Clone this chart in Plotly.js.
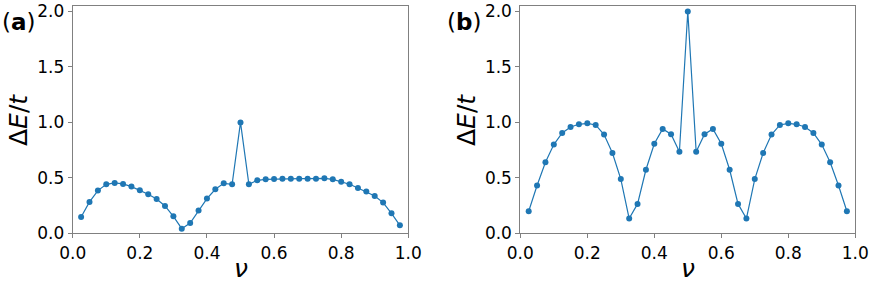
<!DOCTYPE html>
<html><head><meta charset="utf-8">
<script src="https://cdn.plot.ly/plotly-3.0.1.min.js"></script>
<style>body{margin:0;padding:0;background:#fff}#plot{width:872px;height:284px}</style>
</head><body><div id="plot"></div>
<script>
const nu = [0.025,0.05,0.075,0.1,0.125,0.15,0.175,0.2,0.225,0.25,0.275,0.3,0.325,0.35,0.375,0.4,0.425,0.45,0.475,0.5,
0.525,0.55,0.575,0.6,0.625,0.65,0.675,0.7,0.725,0.75,0.775,0.8,0.825,0.85,0.875,0.9,0.925,0.95,0.975];
const gapA = [0.147,0.283,0.385,0.442,0.454,0.445,0.421,0.388,0.352,0.31,0.247,0.153,0.042,0.093,0.205,0.313,0.397,0.451,0.442,1.0,
0.442,0.478,0.487,0.49,0.493,0.493,0.493,0.493,0.493,0.496,0.487,0.466,0.442,0.409,0.376,0.337,0.277,0.18,0.072];
const gapB = [0.199,0.431,0.64,0.8,0.905,0.959,0.983,0.992,0.977,0.89,0.724,0.489,0.133,0.265,0.573,0.808,0.941,0.893,0.736,2.0,
0.736,0.893,0.941,0.808,0.573,0.265,0.133,0.489,0.724,0.89,0.977,0.992,0.983,0.959,0.905,0.8,0.64,0.431,0.199];
const xTicks = [0,0.2,0.4,0.6,0.8,1.0];
const xTickText = ["0.0","0.2","0.4","0.6","0.8","1.0"];
const yTicks = [0,0.5,1.0,1.5,2.0];
const yTickText = ["0.0","0.5","1.0","1.5","2.0"];
const panelLabels = ["a","b"];

const blue = "#1f77b4";
const frame = "#808080";
const tickFont = {family:"DejaVu Sans", size:17, color:"#000"};
function tr(y, xa, ya){
  return {x:nu, y:y, xaxis:xa, yaxis:ya, type:"scatter", mode:"lines+markers",
    line:{color:blue, width:1.2}, marker:{color:blue, size:6}, hoverinfo:"skip"};
}
function xax(dom){
  return {domain:dom, range:[0,1], tickvals:xTicks, ticktext:xTickText, ticks:"outside", ticklen:4,
    tickcolor:frame, showline:true, linecolor:frame, linewidth:1, mirror:true, showgrid:false,
    zeroline:false, tickfont:tickFont, fixedrange:true};
}
function yax(anchor){
  return {domain:[0.1785,0.9789], range:[0,2.05], anchor:anchor, tickvals:yTicks, ticktext:yTickText,
    ticks:"outside", ticklen:4, tickcolor:frame, showline:true, linecolor:frame, linewidth:1, mirror:true,
    showgrid:false, zeroline:false, tickfont:tickFont, fixedrange:true};
}
const titleFont = {family:"DejaVu Sans", size:25, color:"#000"};
const ann = [];
const centers = [[240.5, 18], [687.8, 466]];
const labelX = [0, 445];
for (let i=0;i<2;i++){
  ann.push({xref:"paper", yref:"paper", x:centers[i][0]/872, y:0, text:"<i>ν</i>", showarrow:false,
    font:titleFont, xanchor:"center", yanchor:"bottom", borderpad:0});
  ann.push({xref:"paper", yref:"paper", x:centers[i][1]/872, y:1-120/284, text:"Δ<i>E</i>/<i>t</i>", showarrow:false,
    font:titleFont, textangle:-90, xanchor:"center", yanchor:"middle"});
  ann.push({xref:"paper", yref:"paper", x:labelX[i]/872, y:1-22/284, text:"(<b>"+panelLabels[i]+"</b>)", showarrow:false,
    font:{family:"DejaVu Sans", size:23, color:"#000"}, xanchor:"left", yanchor:"middle"});
}
const layout = {
  width:872, height:284, margin:{l:0,r:0,t:0,b:0}, paper_bgcolor:"#fff", plot_bgcolor:"#fff",
  showlegend:false,
  xaxis: xax([0.0834,0.4682]), yaxis: yax("x"),
  xaxis2: xax([0.5967,0.9808]), yaxis2: yax("x2"),
  annotations: ann
};
layout.xaxis.anchor = "y"; layout.xaxis2.anchor = "y2";
Plotly.newPlot("plot", [tr(gapA,"x","y"), tr(gapB,"x2","y2")], layout, {staticPlot:true});
</script></body></html>
